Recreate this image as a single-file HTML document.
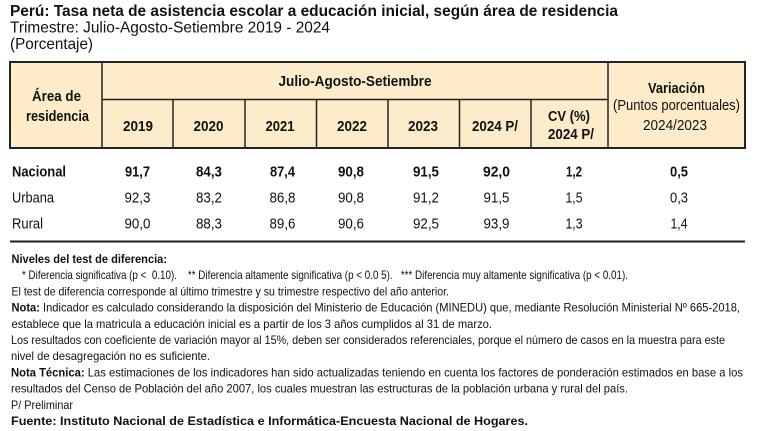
<!DOCTYPE html>
<html><head><meta charset="utf-8"><style>
html,body{margin:0;padding:0;background:#fff;}
svg{display:block;}
text{font-family:"Liberation Sans",Arial,sans-serif;fill:#111;}
.b{font-weight:bold;}
</style></head><body>
<svg width="779" height="431" viewBox="0 0 779 431" xmlns="http://www.w3.org/2000/svg">
<!-- Titles -->
<text class="b" x="10" y="16" font-size="16" textLength="608" lengthAdjust="spacingAndGlyphs">Perú: Tasa neta de asistencia escolar a educación inicial, según área de residencia</text>
<text x="10" y="32.5" font-size="16" textLength="320" lengthAdjust="spacingAndGlyphs">Trimestre: Julio-Agosto-Setiembre 2019 - 2024</text>
<text x="10" y="49" font-size="16" textLength="83" lengthAdjust="spacingAndGlyphs">(Porcentaje)</text>

<!-- Header box -->
<rect x="10" y="62" width="735" height="86" fill="#FDEBC9" stroke="#222" stroke-width="2"/>
<g stroke="#222" stroke-width="1.5">
<line x1="102" y1="62" x2="102" y2="148"/>
<line x1="608" y1="62" x2="608" y2="148"/>
<line x1="102" y1="99.5" x2="608" y2="99.5"/>
<line x1="173" y1="99.5" x2="173" y2="148"/>
<line x1="245" y1="99.5" x2="245" y2="148"/>
<line x1="316.5" y1="99.5" x2="316.5" y2="148"/>
<line x1="388" y1="99.5" x2="388" y2="148"/>
<line x1="459.5" y1="99.5" x2="459.5" y2="148"/>
<line x1="531" y1="99.5" x2="531" y2="148"/>
</g>
<g class="b" font-size="14.5" text-anchor="middle" font-weight="bold">
<text class="b" x="56.5" y="101" textLength="49" lengthAdjust="spacingAndGlyphs">Área de</text>
<text class="b" x="57.5" y="121" textLength="63" lengthAdjust="spacingAndGlyphs">residencia</text>
<text class="b" x="355" y="86" textLength="153" lengthAdjust="spacingAndGlyphs">Julio-Agosto-Setiembre</text>
<text class="b" x="138" y="131" textLength="30" lengthAdjust="spacingAndGlyphs">2019</text>
<text class="b" x="208.5" y="131" textLength="30" lengthAdjust="spacingAndGlyphs">2020</text>
<text class="b" x="280" y="131" textLength="29" lengthAdjust="spacingAndGlyphs">2021</text>
<text class="b" x="352" y="131" textLength="30" lengthAdjust="spacingAndGlyphs">2022</text>
<text class="b" x="423" y="131" textLength="30" lengthAdjust="spacingAndGlyphs">2023</text>
<text class="b" x="495" y="131" textLength="46" lengthAdjust="spacingAndGlyphs">2024 P/</text>
<text class="b" x="569" y="121" textLength="42" lengthAdjust="spacingAndGlyphs">CV (%)</text>
<text class="b" x="571" y="139" textLength="46" lengthAdjust="spacingAndGlyphs">2024 P/</text>
<text class="b" x="676.5" y="93" textLength="57" lengthAdjust="spacingAndGlyphs">Variación</text>
</g>
<g font-size="14.5" text-anchor="middle">
<text x="676.5" y="110" textLength="127" lengthAdjust="spacingAndGlyphs">(Puntos porcentuales)</text>
<text x="675" y="130" textLength="64" lengthAdjust="spacingAndGlyphs">2024/2023</text>
</g>

<!-- Data rows -->
<g font-size="14.5">
<text class="b" x="12" y="176.5" textLength="54" lengthAdjust="spacingAndGlyphs">Nacional</text>
<text x="12" y="202.5" textLength="42" lengthAdjust="spacingAndGlyphs">Urbana</text>
<text x="12" y="228.5" textLength="31" lengthAdjust="spacingAndGlyphs">Rural</text>
</g>
<g font-size="14.5" text-anchor="middle">
<g class="b" font-weight="bold">
<text x="137.5" y="176.5" textLength="25" lengthAdjust="spacingAndGlyphs">91,7</text>
<text x="209" y="176.5" textLength="26" lengthAdjust="spacingAndGlyphs">84,3</text>
<text x="282.5" y="176.5" textLength="25" lengthAdjust="spacingAndGlyphs">87,4</text>
<text x="351" y="176.5" textLength="26" lengthAdjust="spacingAndGlyphs">90,8</text>
<text x="426" y="176.5" textLength="26" lengthAdjust="spacingAndGlyphs">91,5</text>
<text x="496.5" y="176.5" textLength="27" lengthAdjust="spacingAndGlyphs">92,0</text>
<text x="574" y="176.5" textLength="16" lengthAdjust="spacingAndGlyphs">1,2</text>
<text x="679" y="176.5" textLength="18" lengthAdjust="spacingAndGlyphs">0,5</text>
</g>
<text x="137.5" y="202.5" textLength="26" lengthAdjust="spacingAndGlyphs">92,3</text>
<text x="209" y="202.5" textLength="26" lengthAdjust="spacingAndGlyphs">83,2</text>
<text x="282.5" y="202.5" textLength="26" lengthAdjust="spacingAndGlyphs">86,8</text>
<text x="351" y="202.5" textLength="26" lengthAdjust="spacingAndGlyphs">90,8</text>
<text x="426" y="202.5" textLength="26" lengthAdjust="spacingAndGlyphs">91,2</text>
<text x="496.5" y="202.5" textLength="26" lengthAdjust="spacingAndGlyphs">91,5</text>
<text x="574" y="202.5" textLength="17" lengthAdjust="spacingAndGlyphs">1,5</text>
<text x="679" y="202.5" textLength="18" lengthAdjust="spacingAndGlyphs">0,3</text>

<text x="137.5" y="228.5" textLength="26" lengthAdjust="spacingAndGlyphs">90,0</text>
<text x="209" y="228.5" textLength="26" lengthAdjust="spacingAndGlyphs">88,3</text>
<text x="282.5" y="228.5" textLength="26" lengthAdjust="spacingAndGlyphs">89,6</text>
<text x="351" y="228.5" textLength="26" lengthAdjust="spacingAndGlyphs">90,6</text>
<text x="426" y="228.5" textLength="26" lengthAdjust="spacingAndGlyphs">92,5</text>
<text x="496.5" y="228.5" textLength="26" lengthAdjust="spacingAndGlyphs">93,9</text>
<text x="574" y="228.5" textLength="17" lengthAdjust="spacingAndGlyphs">1,3</text>
<text x="679" y="228.5" textLength="17" lengthAdjust="spacingAndGlyphs">1,4</text>
</g>
<line x1="10" y1="241.5" x2="745" y2="241.5" stroke="#222" stroke-width="2"/>

<!-- Notes -->
<g font-size="12">
<text class="b" x="11.5" y="263" textLength="155.5" lengthAdjust="spacingAndGlyphs">Niveles del test de diferencia:</text>
<text x="22" y="279.2" textLength="606" lengthAdjust="spacingAndGlyphs" xml:space="preserve" style="white-space:pre">* Diferencia significativa (p &lt;  0.10).    ** Diferencia altamente significativa (p &lt; 0.0 5).   *** Diferencia muy altamente significativa (p &lt; 0.01).</text>
<text x="11.5" y="295.4" textLength="437.5" lengthAdjust="spacingAndGlyphs">El test de diferencia corresponde al último trimestre y su trimestre respectivo del año anterior.</text>
<text x="11.5" y="311.6" textLength="728.5" lengthAdjust="spacingAndGlyphs"><tspan font-weight="bold">Nota:</tspan> Indicador es calculado considerando la disposición del Ministerio de Educación (MINEDU) que, mediante Resolución Ministerial Nº 665-2018,</text>
<text x="11.5" y="327.8" textLength="480.5" lengthAdjust="spacingAndGlyphs">establece que la matricula a educación inicial es a partir de los 3 años cumplidos al 31 de marzo.</text>
<text x="11" y="344" textLength="714" lengthAdjust="spacingAndGlyphs">Los resultados con coeficiente de variación mayor al 15%, deben ser considerados referenciales, porque el número de casos en la muestra para este</text>
<text x="11" y="360.2" textLength="199" lengthAdjust="spacingAndGlyphs">nivel de desagregación no es suficiente.</text>
<text x="11" y="376.4" textLength="732" lengthAdjust="spacingAndGlyphs"><tspan font-weight="bold">Nota Técnica:</tspan> Las estimaciones de los indicadores han sido actualizadas teniendo en cuenta los factores de ponderación estimados en base a los</text>
<text x="11" y="392.6" textLength="617" lengthAdjust="spacingAndGlyphs">resultados del Censo de Población del año 2007, los cuales muestran las estructuras de la población urbana y rural del país.</text>
<text x="11" y="408.8" textLength="62" lengthAdjust="spacingAndGlyphs">P/ Preliminar</text>
<text class="b" x="11" y="425" textLength="517" lengthAdjust="spacingAndGlyphs">Fuente: Instituto Nacional de Estadística e Informática-Encuesta Nacional de Hogares.</text>
</g>
</svg>
</body></html>
